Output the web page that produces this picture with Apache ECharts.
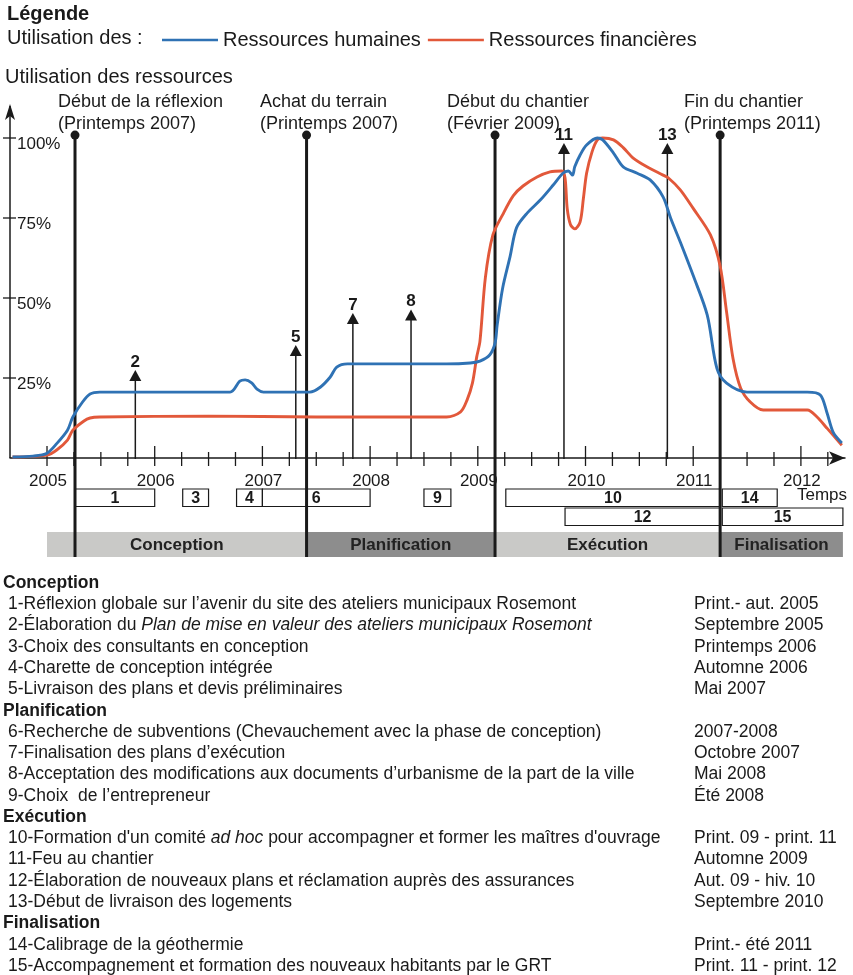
<!DOCTYPE html>
<html><head><meta charset="utf-8">
<script src="https://cdn.jsdelivr.net/npm/echarts@6/dist/echarts.min.js"></script>
<style>html,body{margin:0;padding:0;background:#fff}#c{width:853px;height:975px}</style>
</head><body><div id="c"></div>
<script>
// ---------- data ----------
const seriesNames = ['Ressources humaines', 'Ressources financières'];
const rhPoints = [
[2004.68,0.3],[2004.87,0.6],[2005.00,1.5],[2005.09,4.5],[2005.19,8.7],[2005.24,12.8],[2005.33,17.5],[2005.40,20.0],[2005.49,20.6],[2006.70,20.6],[2006.79,24.0],[2006.84,24.4],[2006.90,23.5],[2006.95,21.5],[2007.01,20.6],[2007.44,20.6],[2007.54,22.2],[2007.63,25.3],[2007.69,28.4],[2007.79,29.4],[2008.71,29.4],[2008.93,29.7],[2009.02,30.3],[2009.11,32.2],[2009.16,35.9],[2009.18,41.6],[2009.23,53],[2009.30,63],[2009.36,72],[2009.46,76.6],[2009.58,80.6],[2009.70,85.3],[2009.79,89],[2009.84,89.7],[2009.88,88.4],[2009.90,91],[2009.95,94.7],[2010.01,97.8],[2010.11,100],[2010.16,99.4],[2010.26,95.3],[2010.35,91],[2010.48,89],[2010.60,86.9],[2010.72,81.6],[2010.79,75],[2010.88,67.5],[2011.00,57],[2011.13,44.7],[2011.22,28],[2011.31,23.4],[2011.50,20.6],[2012.06,20.6],[2012.18,19.7],[2012.24,14.4],[2012.30,8],[2012.38,4.7]
];
const rfPoints = [
[2004.68,0.3],[2005.00,0.9],[2005.09,2.5],[2005.19,5.6],[2005.24,8.7],[2005.34,11.5],[2005.40,12.5],[2005.49,12.8],[2006.50,13.1],[2007.50,12.8],[2008.71,12.8],[2008.84,14.4],[2008.90,18.1],[2008.95,23.4],[2008.99,31.6],[2009.02,36.5],[2009.07,56.3],[2009.14,69.7],[2009.23,76],[2009.33,82],[2009.42,85],[2009.55,87.8],[2009.67,89.4],[2009.78,89.7],[2009.81,87.5],[2009.83,78],[2009.86,73],[2009.90,71.6],[2009.95,73.8],[2009.98,81],[2010.01,89],[2010.06,95.6],[2010.11,99.4],[2010.16,100],[2010.26,99.4],[2010.35,97],[2010.44,93.8],[2010.57,91],[2010.72,88.4],[2010.77,87.5],[2010.88,83.8],[2011.00,78],[2011.16,69.7],[2011.25,60],[2011.31,45.6],[2011.37,31],[2011.44,21.9],[2011.53,17.5],[2011.65,15],[2012.06,15],[2012.15,12.8],[2012.24,9.4],[2012.38,4]
];
const yearValues = [2005,2006,2007,2008,2009,2010,2011,2012];
const yearLabels = ['2005','2006','2007','2008','2009','2010','2011','2012'];
const quarterTicks = [2005,2005.25,2005.5,2005.75,2006,2006.25,2006.5,2006.75,2007,2007.25,2007.5,2007.75,2008,2008.25,2008.5,2008.75,2009,2009.25,2009.5,2009.75,2010,2010.25,2010.5,2010.75,2011,2011.25,2011.5,2011.75,2012,2012.25];
const yTickValues = [25,50,75,100];
const yTickLabels = ['25%','50%','75%','100%'];

const milestoneX = [2005.26, 2007.41, 2009.16, 2011.25];
const milestoneTitles = ['Début de la réflexion','Achat du terrain','Début du chantier','Fin du chantier'];
const milestoneDates = ['(Printemps 2007)','(Printemps 2007)','(Février 2009)','(Printemps 2011)'];

const eventLabels = ['2','5','7','8','11','13'];
const eventX = [2005.82, 2007.31, 2007.84, 2008.38, 2009.80, 2010.76];
const eventTop = [27.5, 35.3, 45.3, 46.4, 98.4, 98.4];

const ganttLabels = ['1','3','4','6','9','10','14','12','15'];
const ganttStart = [2005.26,2006.26,2006.76,2007.00,2008.50,2009.26,2011.27,2009.81,2011.27];
const ganttEnd   = [2006.00,2006.50,2007.00,2008.00,2008.75,2011.25,2011.78,2011.25,2012.39];
const ganttRow   = [0,0,0,0,0,0,0,1,1];

const phaseNames = ['Conception','Planification','Exécution','Finalisation'];
const phaseStart = [2005.00, 2007.41, 2009.16, 2011.25];
const phaseEnd   = [2007.41, 2009.16, 2011.25, 2012.39];

const listKinds = ['h','i','i','i','i','i','h','i','i','i','i','h','i','i','i','i','h','i','i'];
const listTexts = [
 'Conception',
 '1-Réflexion globale sur l’avenir du site des ateliers municipaux Rosemont',
 '2-Élaboration du {it|Plan de mise en valeur des ateliers municipaux Rosemont}',
 '3-Choix des consultants en conception',
 '4-Charette de conception intégrée',
 '5-Livraison des plans et devis préliminaires',
 'Planification',
 '6-Recherche de subventions (Chevauchement avec la phase de conception)',
 '7-Finalisation des plans d’exécution',
 '8-Acceptation des modifications aux documents d’urbanisme de la part de la ville',
 '9-Choix  de l’entrepreneur',
 'Exécution',
 "10-Formation d'un comité {it|ad hoc} pour accompagner et former les maîtres d'ouvrage",
 '11-Feu au chantier',
 '12-Élaboration de nouveaux plans et réclamation auprès des assurances',
 '13-Début de livraison des logements',
 'Finalisation',
 '14-Calibrage de la géothermie',
 '15-Accompagnement et formation des nouveaux habitants par le GRT'
];
const listDates = ['','Print.- aut. 2005','Septembre 2005','Printemps 2006','Automne 2006','Mai 2007','',
 '2007-2008','Octobre 2007','Mai 2008','Été 2008','','Print. 09 - print. 11','Automne 2009',
 'Aut. 09 - hiv. 10','Septembre 2010','','Print.- été 2011','Print. 11 - print. 12'];

// ---------- layout / style ----------
const FF = '"Liberation Sans", Arial, sans-serif';
const INK = '#1a1a1a';
const XMIN = 2004.6564, XMAX = 2012.4094;
const BLUE = '#2f72b4', ORANGE = '#e2583a';
const phaseColors = ['#c9c9c7','#8d8d8d','#c9c9c7','#8d8d8d'];

const chart = echarts.init(document.getElementById('c'), null, {renderer:'canvas'});

const graphic = [];
graphic.push({type:'text', x:7, y:14, style:{text:'Légende', font:'bold 20px '+FF, fill:INK, verticalAlign:'middle'}});
graphic.push({type:'text', x:7, y:38, style:{text:'Utilisation des :', font:'20px '+FF, fill:INK, verticalAlign:'middle'}});
graphic.push({type:'text', x:5, y:77, style:{text:'Utilisation des ressources', font:'20px '+FF, fill:INK, verticalAlign:'middle'}});
const annLeft = [58, 260, 447, 684];
milestoneTitles.forEach((t,i)=>{
  graphic.push({type:'text', x:annLeft[i], y:102, style:{text:t, font:'18px '+FF, fill:INK, verticalAlign:'middle'}});
  graphic.push({type:'text', x:annLeft[i], y:124, style:{text:milestoneDates[i], font:'18px '+FF, fill:INK, verticalAlign:'middle'}});
});
graphic.push({type:'text', x:797, y:495, style:{text:'Temps', font:'17px '+FF, fill:INK, verticalAlign:'middle'}});
listTexts.forEach((t,i)=>{
  const y = 583 + i*21.28;
  const head = listKinds[i]==='h';
  graphic.push({type:'text', x: head?3:8, y:y, style:{text:t, font:(head?'bold ':'')+'17.5px '+FF, fill:INK, verticalAlign:'middle',
     rich:{it:{fontStyle:'italic', fontSize:17.5, fontFamily:FF, fill:INK}}}});
  if (listDates[i]) graphic.push({type:'text', x:694, y:y, style:{text:listDates[i], font:'17.5px '+FF, fill:INK, verticalAlign:'middle'}});
});

function line(x1,y1,x2,y2,w){return {type:'line', shape:{x1,y1,x2,y2}, style:{stroke:INK, lineWidth:w}};}

const option = {
  animation:false,
  backgroundColor:'#fff',
  textStyle:{fontFamily:FF},
  grid:{left:10, top:106, width:835, height:451.2, containLabel:false},
  legend:{data:seriesNames, left:157, top:25, itemWidth:56, itemHeight:14, itemGap:7,
    textStyle:{fontSize:20, color:INK, fontFamily:FF}, icon:'path://M0,6 L56,6 L56,8.5 L0,8.5 Z'},
  xAxis:{type:'value', min:XMIN, max:XMAX,
    axisLine:{show:true, onZero:true, symbol:['none','arrow'], symbolSize:[10,16], lineStyle:{color:INK, width:1.5}},
    axisTick:{show:false}, splitLine:{show:false}, axisLabel:{show:false}},
  yAxis:{type:'value', min:-31, max:110,
    axisLine:{show:false}, axisTick:{show:false}, splitLine:{show:false},
    axisLabel:{customValues:yTickValues, inside:true, margin:7, fontSize:17, color:INK, fontFamily:FF,
      verticalAlign:'top', lineHeight:12, formatter:v=>yTickLabels[yTickValues.indexOf(Math.round(v))]}},
  graphic: graphic,
  series:[
    {name:'phases', type:'custom', silent:true, z:1, data: phaseNames.map((n,i)=>[phaseStart[i], phaseEnd[i]]),
      renderItem:(p,api)=>{
        const a=api.coord([api.value(0),0]), b=api.coord([api.value(1),0]);
        const top=a[1]+74, h=25;
        return {type:'group', children:[
          {type:'rect', shape:{x:a[0], y:top, width:b[0]-a[0], height:h}, style:{fill:phaseColors[p.dataIndex]}},
          {type:'text', x:(a[0]+b[0])/2, y:top+h/2+1, style:{text:phaseNames[p.dataIndex], font:'bold 17px '+FF, fill:'#222', align:'center', verticalAlign:'middle'}}
        ]};
      }},
    {name:'gantt', type:'custom', silent:true, z:2, data: ganttLabels.map((n,i)=>[ganttStart[i], ganttEnd[i], ganttRow[i]]),
      renderItem:(p,api)=>{
        const a=api.coord([api.value(0),0]), b=api.coord([api.value(1),0]);
        const top=a[1]+31+api.value(2)*19, h=17.5;
        return {type:'group', children:[
          {type:'rect', shape:{x:a[0], y:top, width:b[0]-a[0], height:h}, style:{fill:'#fff', stroke:INK, lineWidth:1.2}},
          {type:'text', x:(a[0]+b[0])/2, y:top+h/2+1, style:{text:ganttLabels[p.dataIndex], font:'bold 16px '+FF, fill:INK, align:'center', verticalAlign:'middle'}}
        ]};
      }},
    {name:'xticks', type:'custom', silent:true, z:3, data: quarterTicks.map(v=>[v]),
      renderItem:(p,api)=>{
        const v=api.value(0), c=api.coord([v,0]);
        const yi=yearValues.indexOf(Math.round(v));
        const yr=Math.abs(v-Math.round(v))<1e-6;
        const children=[line(c[0], c[1]-(yr?12:6), c[0], c[1]+8, 1.3)];
        if (yr && yi>=0) children.push({type:'text', x:c[0]+1, y:c[1]+23, style:{text:yearLabels[yi], font:'17px '+FF, fill:INK, align:'center', verticalAlign:'middle'}});
        return {type:'group', children};
      }},
    {name:'yaxis', type:'custom', silent:true, z:3, data: yTickValues.map(v=>[XMIN, v]),
      renderItem:(p,api)=>{
        const c=api.coord([api.value(0), api.value(1)]);
        const children=[line(c[0]-7, c[1], c[0]+6, c[1], 1.3)];
        if (p.dataIndex===0){
          const o=api.coord([XMIN,0]), t=api.coord([XMIN,110]);
          children.push(line(o[0], o[1], t[0], t[1], 1.5));
          children.push({type:'polygon', shape:{points:[[t[0],t[1]-2],[t[0]-5,t[1]+14],[t[0],t[1]+10],[t[0]+5,t[1]+14]]}, style:{fill:INK}});
        }
        return {type:'group', children};
      }},
    {name:'milestones', type:'custom', silent:true, z:4, data: milestoneX.map(v=>[v]),
      renderItem:(p,api)=>{
        const t=api.coord([api.value(0),100.9]), b=api.coord([api.value(0),-30.9]);
        return {type:'group', children:[
          line(t[0], t[1], b[0], b[1], 3),
          {type:'circle', shape:{cx:t[0], cy:t[1], r:4.5}, style:{fill:INK}}
        ]};
      }},
    {name:'events', type:'custom', silent:true, z:4, data: eventX.map((v,i)=>[v, eventTop[i]]),
      renderItem:(p,api)=>{
        const x=api.value(0), b=api.coord([x,0]), t=api.coord([x,api.value(1)]);
        return {type:'group', children:[
          line(b[0], b[1]+1, t[0], t[1]+8, 1.5),
          {type:'polygon', shape:{points:[[t[0],t[1]],[t[0]-6,t[1]+11],[t[0]+6,t[1]+11]]}, style:{fill:INK}},
          {type:'text', x:t[0], y:t[1]-8, style:{text:eventLabels[p.dataIndex], font:'bold 17px '+FF, fill:INK, align:'center', verticalAlign:'middle'}}
        ]};
      }},
    {name:seriesNames[1], type:'line', z:5, data:rfPoints, smooth:0.3, symbol:'none', showSymbol:false,
      lineStyle:{color:ORANGE, width:2.9}, itemStyle:{color:ORANGE}},
    {name:seriesNames[0], type:'line', z:6, data:rhPoints, smooth:0.3, symbol:'none', showSymbol:false,
      lineStyle:{color:BLUE, width:2.9}, itemStyle:{color:BLUE}}
  ]
};
chart.setOption(option);
</script></body></html>
